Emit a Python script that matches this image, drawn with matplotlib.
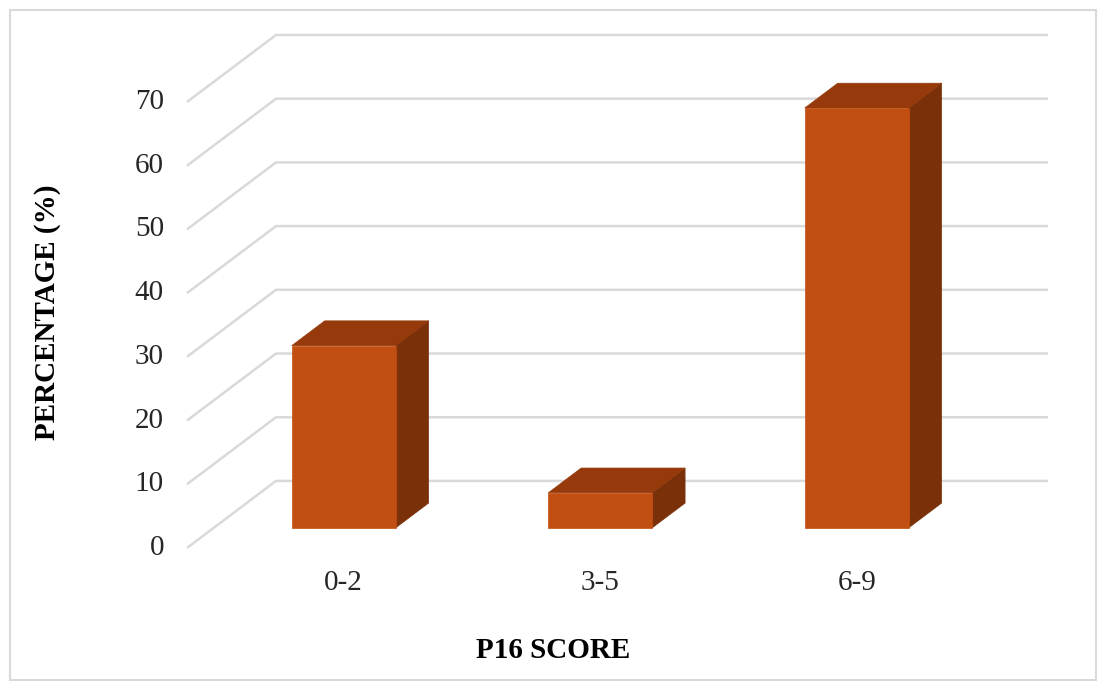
import matplotlib.pyplot as plt
from matplotlib.patches import Polygon, Rectangle

categories = ["0-2", "3-5", "6-9"]
percentages = [28.6, 5.5, 65.9]
y_ticks = [0, 10, 20, 30, 40, 50, 60, 70]

front_color = "#C24F12"
top_color = "#963A0C"
side_color = "#7A3008"
grid_color = "#D9D9D9"

plt.rcParams["font.family"] = ["Liberation Serif", "DejaVu Serif"]

# pseudo-3d geometry: depth 0 is the front edge, depth 1 the back wall
DX = 0.347      # horizontal shift (category units) per unit depth
DY = 10.52      # vertical shift (value units) per unit depth
BAR_W = 0.405
BAR_FRONT, BAR_BACK = 0.30, 0.67
WALL_LEFT = -0.507
WALL_RIGHT = 2.850


def proj(x, y, d):
    return (x + d * DX, y + d * DY)


fig = plt.figure(figsize=(11.02, 6.84), dpi=100)
ax = fig.add_axes([0, 0, 1, 1])
ax.set_xlim(-1.2359, 3.0604)
ax.set_ylim(-21.35, 86.01)
ax.axis("off")

# side wall diagonals and back wall gridlines
for v in y_ticks:
    p0 = proj(WALL_LEFT, v, 0)
    p1 = proj(WALL_LEFT, v, 1)
    ax.plot([p0[0], p1[0], WALL_RIGHT], [p0[1], p1[1], p1[1]],
            color=grid_color, lw=1.8, zorder=1, solid_capstyle="butt")
    ax.text(WALL_LEFT - 0.09, v, str(v), ha="right", va="center",
            fontsize=21, color="#262626")

for i, (cat, v) in enumerate(zip(categories, percentages)):
    x0, x1 = i - BAR_W / 2, i + BAR_W / 2
    front = [proj(x0, 0, BAR_FRONT), proj(x1, 0, BAR_FRONT),
             proj(x1, v, BAR_FRONT), proj(x0, v, BAR_FRONT)]
    top = [proj(x0, v, BAR_FRONT), proj(x1, v, BAR_FRONT),
           proj(x1, v, BAR_BACK), proj(x0, v, BAR_BACK)]
    side = [proj(x1, 0, BAR_FRONT), proj(x1, 0, BAR_BACK),
            proj(x1, v, BAR_BACK), proj(x1, v, BAR_FRONT)]
    for pts, c in ((side, side_color), (top, top_color), (front, front_color)):
        ax.add_patch(Polygon(pts, closed=True, facecolor=c,
                             edgecolor=c, lw=0.5, zorder=3))
    lx, _ = proj(i, 0, BAR_FRONT)
    ax.text(lx, -5.5, cat, ha="center", va="center",
            fontsize=21, color="#262626")

fig.text(48 / 1102, 1 - 312 / 684, "PERCENTAGE (%)", rotation=90,
         ha="center", va="center", fontsize=21, fontweight="bold")
fig.text(553 / 1102, 1 - 650 / 684, "P16 SCORE", ha="center", va="center",
         fontsize=21, fontweight="bold")

fig.patches.append(Rectangle((10 / 1102, 4 / 684), 1086 / 1102, 670 / 684,
                             transform=fig.transFigure, fill=False,
                             edgecolor=grid_color, lw=1.5))

fig.savefig("out.png", dpi=100)
